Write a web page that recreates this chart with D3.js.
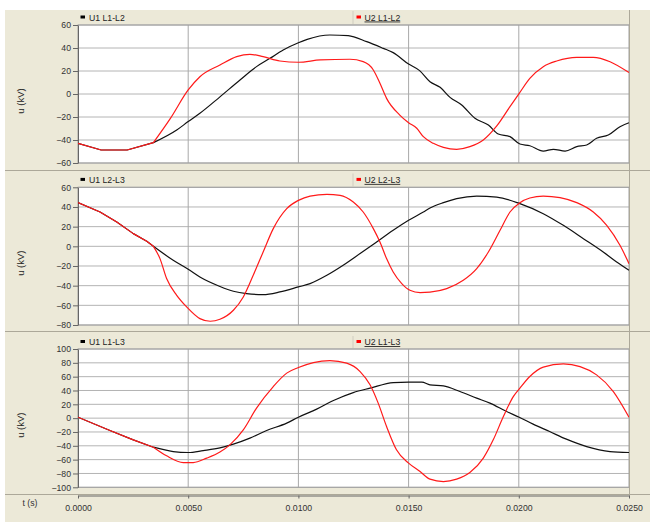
<!DOCTYPE html>
<html>
<head>
<meta charset="utf-8">
<script src="https://cdn.jsdelivr.net/npm/d3@7"></script>
<style>
  body { margin: 0; background: #fff; }
  svg { display: block; }
  text { font-family: "Liberation Sans", Arial, sans-serif; }
</style>
</head>
<body>
<svg id="chart" width="650" height="522"></svg>
<script>
// Time axis ticks (s)
const timeTicks = [0, 0.005, 0.010, 0.015, 0.020, 0.025];
// Instant (s) where U2 departs from U1
const faultTime = 0.00342;

// Line-to-line voltages, [t (s), u (kV)]
const u1L1L2 = [[0,-43],[0.00105,-48.7],[0.00223,-48.7],[0.00342,-42.3],[0.00448,-31.3],[0.005,-24],[0.00553,-16.8],[0.00644,-2.5],[0.00735,12.2],[0.0081,23.8],[0.00871,31],[0.00931,38.3],[0.01,44.6],[0.0104,47.5],[0.01143,51.3],[0.01226,50.7],[0.0131,45.5],[0.01385,39.7],[0.0143,36],[0.015,26],[0.0155,20.3],[0.01597,10.7],[0.01643,5.8],[0.01688,-2.9],[0.01741,-9.6],[0.01801,-21.1],[0.01862,-27],[0.01907,-34.8],[0.0196,-37.1],[0.02005,-43.5],[0.0205,-45],[0.02111,-49.6],[0.02157,-48.1],[0.0221,-49.6],[0.02263,-45.8],[0.02308,-44.3],[0.02353,-38.5],[0.02406,-35.7],[0.02459,-28.4],[0.025,-25]];
const u2L1L2 = [[0,-43],[0.00105,-48.7],[0.00223,-48.7],[0.00342,-42.3],[0.0042,-21],[0.005,3.5],[0.00553,15],[0.00644,25.2],[0.0072,32.5],[0.0078,34.5],[0.0084,32.5],[0.00916,28.7],[0.01,27.6],[0.011,29.6],[0.01234,30.2],[0.01294,28.1],[0.0134,20.9],[0.0137,9.3],[0.014,-3.8],[0.0146,-18.3],[0.015,-25],[0.01537,-29.8],[0.01567,-37.1],[0.01612,-42.9],[0.01658,-46.4],[0.01718,-48.1],[0.01778,-45.8],[0.01839,-40],[0.019,-27.8],[0.0196,-11],[0.02002,0.6],[0.0205,13.6],[0.02111,23.8],[0.02172,28.7],[0.02263,31.9],[0.02338,31.9],[0.02414,28.1],[0.025,18.6]];

const u1L2L3 = [[0,44.4],[0.001,34.9],[0.00176,24.7],[0.00251,12.9],[0.00312,5.1],[0.00342,0],[0.00432,-14.2],[0.005,-23.4],[0.00553,-31.2],[0.00644,-40.8],[0.00705,-45.7],[0.00765,-48.1],[0.0084,-49.1],[0.00916,-46.4],[0.01,-41.3],[0.01053,-37.9],[0.01129,-29.5],[0.01203,-19.3],[0.0128,-7.4],[0.01355,4.4],[0.0143,16.3],[0.015,26.4],[0.01567,34.9],[0.01597,38.9],[0.01658,44.4],[0.01718,48.5],[0.01809,51.1],[0.019,50.1],[0.02005,43.4],[0.02111,33.2],[0.02202,21.3],[0.02293,7.8],[0.02383,-5.8],[0.02444,-16],[0.025,-24.4]];
const u2L2L3 = [[0,44.4],[0.001,34.9],[0.00176,24.7],[0.00251,12.9],[0.00312,5.1],[0.00342,0],[0.00372,-12.5],[0.00402,-32.8],[0.00448,-49.8],[0.00493,-61.6],[0.00553,-73.5],[0.006,-76.2],[0.00644,-74.2],[0.00705,-65],[0.0075,-51.5],[0.00795,-29.5],[0.0084,-5.8],[0.00886,18],[0.00947,38.3],[0.01,46.7],[0.01053,51.1],[0.01129,52.8],[0.01189,51.8],[0.01249,45],[0.01294,34.9],[0.0134,18],[0.0137,4.4],[0.014,-12.5],[0.0143,-26.1],[0.01469,-37.9],[0.01506,-44.7],[0.01552,-47.1],[0.01597,-46.6],[0.01673,-43],[0.01748,-34.6],[0.01809,-22.7],[0.01862,-5.8],[0.01915,16.3],[0.0196,34.9],[0.02005,44.4],[0.0205,49.1],[0.02111,51.1],[0.02187,49.5],[0.02263,44.4],[0.02338,34.9],[0.02399,21.3],[0.02459,1],[0.025,-17.6]];

const u1L1L3 = [[0,1.4],[0.00145,-17.9],[0.00251,-31.4],[0.00342,-42],[0.00432,-48.3],[0.005,-49.7],[0.00568,-46.9],[0.00644,-43],[0.00705,-37.6],[0.0078,-28.9],[0.00856,-17.9],[0.00947,-7.2],[0.01,1.4],[0.01083,13],[0.01159,25.5],[0.01249,37],[0.01325,43.4],[0.01431,51.5],[0.015,52.1],[0.0156,52.1],[0.01597,48.2],[0.01658,46.7],[0.01733,38.5],[0.01809,28.9],[0.01869,21.7],[0.01945,9.5],[0.02002,1.4],[0.02065,-8.7],[0.0214,-19.4],[0.02216,-30.4],[0.02308,-41.1],[0.02414,-48.3],[0.025,-49.7]];
const u2L1L3 = [[0,1.4],[0.00145,-17.9],[0.00251,-31.4],[0.00342,-42],[0.00402,-54.5],[0.00478,-64.2],[0.00523,-64.2],[0.00584,-57.8],[0.00644,-49],[0.00689,-38.6],[0.0075,-16.9],[0.0081,14.5],[0.00886,45.7],[0.00947,65.1],[0.01,73.2],[0.01068,80.4],[0.01143,83.3],[0.01219,79.5],[0.0128,67.4],[0.01325,48.2],[0.01362,21.7],[0.014,-12.1],[0.01445,-45.8],[0.015,-65.1],[0.01552,-77.2],[0.01597,-88.2],[0.01658,-91.7],[0.01718,-88.2],[0.01778,-78.7],[0.01839,-57.8],[0.01884,-31.4],[0.0193,2.3],[0.01975,31.2],[0.02005,43.4],[0.0205,60.2],[0.02111,73.8],[0.02202,78.5],[0.02278,74.6],[0.02353,62.6],[0.02429,38.5],[0.025,1.4]];

// Series names and y-axis ticks per pane
const seriesNames = [["U1 L1-L2", "U2 L1-L2"], ["U1 L2-L3", "U2 L2-L3"], ["U1 L1-L3", "U2 L1-L3"]];
const yTicks = [
  [-60, -40, -20, 0, 20, 40, 60],
  [-80, -60, -40, -20, 0, 20, 40, 60],
  [-100, -80, -60, -40, -20, 0, 20, 40, 60, 80, 100]
];
const seriesU1 = [u1L1L2, u1L2L3, u1L1L3];
const seriesU2 = [u2L1L2, u2L2L3, u2L1L3];

// Layout
const BG = "#ece9d8";
const left = 78, right = 629;
const panes = [
  { head: 10, top: 25, bottom: 163 },
  { head: 172.5, top: 187.3, bottom: 325 },
  { head: 335, top: 349, bottom: 487.3 }
];
const axisY = 495.5;

const svg = d3.select("#chart");
svg.append("rect").attr("x", 5).attr("y", 10).attr("width", 645).attr("height", 512).attr("fill", BG);

const x = d3.scaleLinear().domain([0, 0.025]).range([left, right]);

// pane separators
[170.5, 331.5, 494.5].forEach(yy => {
  svg.append("line").attr("x1", 5).attr("x2", 650).attr("y1", yy).attr("y2", yy)
    .attr("stroke", "#aca899").attr("stroke-width", 1);
});

panes.forEach((p, i) => {
  const ticks = yTicks[i];
  const y = d3.scaleLinear().domain(d3.extent(ticks)).range([p.bottom, p.top]);
  const g = svg.append("g");

  // legend header strip
  g.append("rect").attr("x", left).attr("y", p.head).attr("width", right - left).attr("height", p.top - p.head)
    .attr("fill", BG);
  g.append("line").attr("x1", right + 0.5).attr("x2", right + 0.5).attr("y1", p.head).attr("y2", p.top)
    .attr("stroke", "#aca899");
  g.append("line").attr("x1", 353).attr("x2", 353).attr("y1", p.head + 1).attr("y2", p.top - 1)
    .attr("stroke", "#d0cdc0");

  // plot area
  g.append("rect").attr("x", left).attr("y", p.top).attr("width", right - left).attr("height", p.bottom - p.top)
    .attr("fill", "#fff");

  // grid
  g.selectAll(".hg").data(ticks).join("line")
    .attr("x1", left).attr("x2", right).attr("y1", d => y(d)).attr("y2", d => y(d))
    .attr("stroke", "#b4b4b4").attr("stroke-width", 1);
  g.selectAll(".vg").data(timeTicks.slice(1, -1)).join("line")
    .attr("x1", d => x(d)).attr("x2", d => x(d)).attr("y1", p.top).attr("y2", p.bottom)
    .attr("stroke", "#a8a8a8").attr("stroke-width", 1);

  // frame
  g.append("rect").attr("x", left).attr("y", p.top).attr("width", right - left).attr("height", p.bottom - p.top)
    .attr("fill", "none").attr("stroke", "#a0a0a0").attr("stroke-width", 1);

  // y axis
  const ax = g.append("g").attr("transform", `translate(${left},0)`)
    .call(d3.axisLeft(y).tickValues(ticks).tickSize(5).tickPadding(2).tickSizeOuter(0));
  ax.select(".domain").attr("stroke", "#666");
  ax.selectAll(".tick line").attr("stroke", "#666");
  ax.selectAll(".tick text").attr("fill", "#333").attr("font-size", 8.7)
    .attr("font-family", "'Liberation Sans', Arial, sans-serif");

  g.append("text").attr("transform", `translate(24,${(p.top + p.bottom) / 2 + 7}) rotate(-90)`)
    .attr("text-anchor", "middle").attr("font-size", 9.5).attr("fill", "#222").text("u (kV)");

  // legend entries
  const legY = p.head + (p.top - p.head) / 2;
  g.append("rect").attr("x", 80.5).attr("y", legY - 2).attr("width", 4.5).attr("height", 3).attr("fill", "#000");
  g.append("text").attr("x", 89).attr("y", legY + 3).attr("font-size", 8.7).attr("fill", "#222").text(seriesNames[i][0]);
  g.append("rect").attr("x", 356.5).attr("y", legY - 2).attr("width", 4.5).attr("height", 3).attr("fill", "#f00");
  g.append("text").attr("x", 364.5).attr("y", legY + 3).attr("font-size", 8.7).attr("fill", "#222")
    .attr("text-decoration", "underline").text(seriesNames[i][1]);

  // traces: straight segments before the fault instant, smooth afterwards
  const preLine = d3.line().x(d => x(d[0])).y(d => y(d[1])).curve(d3.curveLinear);
  const postLine = d3.line().x(d => x(d[0])).y(d => y(d[1])).curve(d3.curveMonotoneX);
  const traceD = pts => preLine(pts.filter(d => d[0] <= faultTime)) +
    postLine(pts.filter(d => d[0] >= faultTime)).replace(/^M/, "L");
  const clipId = "clip" + i;
  g.append("clipPath").attr("id", clipId).append("rect")
    .attr("x", left).attr("y", p.top).attr("width", right - left + 1).attr("height", p.bottom - p.top);
  const traces = g.append("g").attr("clip-path", `url(#${clipId})`);
  traces.append("path").attr("d", traceD(seriesU1[i])).attr("fill", "none")
    .attr("stroke", "#111").attr("stroke-width", 1.2).attr("stroke-linejoin", "round");
  traces.append("path").attr("d", traceD(seriesU2[i])).attr("fill", "none")
    .attr("stroke", "#ff1a1a").attr("stroke-width", 1.2).attr("stroke-linejoin", "round");
});

// time axis
svg.append("line").attr("x1", right + 0.5).attr("x2", right + 0.5).attr("y1", 10).attr("y2", axisY)
  .attr("stroke", "#aca899");
const xa = svg.append("g").attr("transform", `translate(0,${axisY})`)
  .call(d3.axisBottom(x).tickValues(timeTicks).tickSize(3).tickPadding(6).tickSizeOuter(0)
    .tickFormat(d3.format(".4f")));
xa.select(".domain").attr("stroke", "#666");
xa.selectAll(".tick line").attr("stroke", "#666");
xa.selectAll(".tick text").attr("fill", "#333").attr("font-size", 8.7)
  .attr("font-family", "'Liberation Sans', Arial, sans-serif");
svg.append("text").attr("x", 30).attr("y", 506).attr("text-anchor", "middle")
  .attr("font-size", 8.7).attr("fill", "#333").text("t (s)");
</script>
</body>
</html>
